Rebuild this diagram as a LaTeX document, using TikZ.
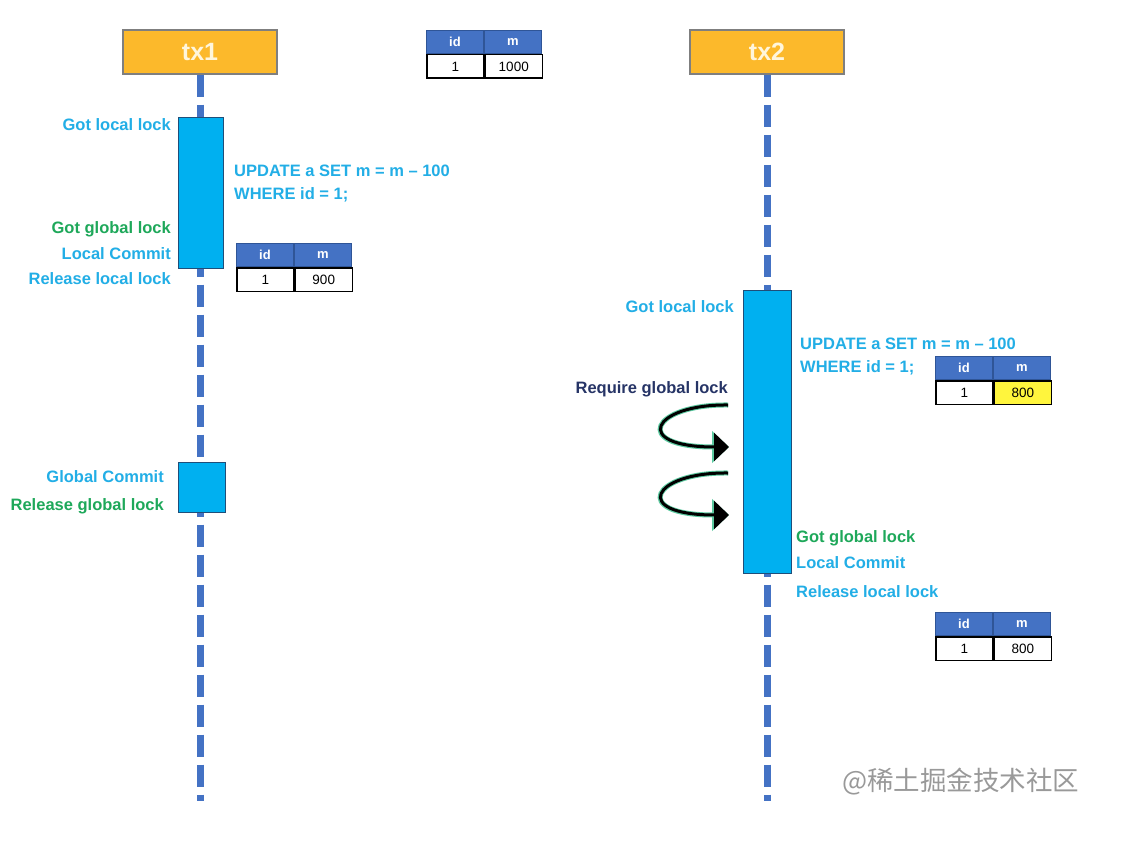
\documentclass[tikz,border=0pt]{standalone}
\usepackage{fontspec}
\setmainfont{Liberation Sans}
\newfontfamily\cjkfont{Noto Sans CJK SC}
\usetikzlibrary{arrows.meta}
\definecolor{txorange}{HTML}{FCB92B}
\definecolor{txborder}{HTML}{7F7F7F}
\definecolor{lifeblue}{HTML}{4472C4}
\definecolor{actcyan}{HTML}{00B0F0}
\definecolor{actborder}{HTML}{1F4E79}
\definecolor{txtcyan}{HTML}{22AEE6}
\definecolor{txtgreen}{HTML}{1EA85A}
\definecolor{txtnavy}{HTML}{263466}
\definecolor{hdrblue}{HTML}{4472C4}
\definecolor{hdrborder}{HTML}{2F5597}
\definecolor{cellyellow}{HTML}{FFF53D}
\definecolor{glowgreen}{HTML}{5CC9A0}
\definecolor{txtcream}{HTML}{FFF6DC}
\newcommand\dbtable[5]{%
  \node[hdrcell] (#1hid) at (#2,#3) {id};
  \node[hdrcell, anchor=north west] (#1hm) at (#1hid.north east) {m};
  \node[rowcell, anchor=north west] (#1vid) at (#1hid.south west) {1};
  \node[rowcell, anchor=north west, fill=#5] (#1vm) at (#1vid.north east) {#4};
}
\begin{document}
\begin{tikzpicture}[x=1pt,y=-1pt,
  txbox/.style={draw=txborder, line width=1.2pt, fill=txorange, text=txtcream,
    minimum width=154pt, minimum height=44pt, inner sep=0pt,
    font=\bfseries\fontsize{25}{25}\selectfont},
  lifeline/.style={lifeblue, line width=7pt, dash pattern=on 22pt off 8pt},
  act/.style={draw=actborder, line width=1pt, fill=actcyan, inner sep=0pt, anchor=north west},
  hdrcell/.style={draw=hdrborder, line width=1pt, fill=hdrblue, text=white, anchor=north west,
    minimum width=57pt, minimum height=23pt, inner sep=0pt,
    font=\bfseries\fontsize{13}{13}\selectfont},
  rowcell/.style={draw=black, line width=1.5pt, fill=white, text=black,
    minimum width=57pt, minimum height=23.5pt, inner sep=0pt,
    font=\fontsize{13.5}{13.5}\selectfont},
  lbl/.style={inner sep=0pt, font=\bfseries\fontsize{16.5}{16.5}\selectfont},
  cyanlbl/.style={lbl, text=txtcyan},
  greenlbl/.style={lbl, text=txtgreen},
  navylbl/.style={lbl, text=txtnavy},
  glow/.style={glowgreen, line width=5pt, -{Triangle[length=17pt,width=31pt]}},
  spin/.style={black, line width=3pt, -{Triangle[length=15pt,width=28pt]}},
]
\useasboundingbox[fill=white] (0,0) rectangle (1123,853);

% headers
\node[txbox] (tx1) at (200,52) {tx1};
\node[txbox] (tx2) at (767,52) {tx2};
\coordinate (tx1end) at (200,801);
\coordinate (tx2end) at (767,801);

% lifelines
\draw[lifeline] (tx1.south) -- (tx1end);
\draw[lifeline] (tx2.south) -- (tx2end);

% activation boxes
\node[act, minimum width=45pt, minimum height=151pt] (a1) at (178,117) {};
\node[act, minimum width=47pt, minimum height=50pt] (a2) at (178,462) {};
\node[act, minimum width=48pt, minimum height=283pt] (a3) at (743,290) {};

% tables
\dbtable{t0}{426}{30}{1000}{white}
\dbtable{t1}{236}{243}{900}{white}
\dbtable{t2}{935}{356}{800}{cellyellow}
\dbtable{t3}{935}{612}{800}{white}

% tx1 labels
\node[cyanlbl, anchor=base east] (l1) at (171,131) {Got local lock};
\node[cyanlbl, anchor=base west] (l2) at (234,177) {UPDATE a SET m = m – 100};
\node[cyanlbl, anchor=base west] (l3) at (234,199) {WHERE id = 1;};
\node[greenlbl, anchor=base east] (l4) at (171,233) {Got global lock};
\node[cyanlbl, anchor=base east] (l5) at (171,259) {Local Commit};
\node[cyanlbl, anchor=base east] (l6) at (171,284) {Release local lock};
\node[cyanlbl, anchor=base east] (l7) at (164,482) {Global Commit};
\node[greenlbl, anchor=base east] (l8) at (164,510) {Release global lock};

% tx2 labels
\node[cyanlbl, anchor=base east] (r1) at (734,312) {Got local lock};
\node[cyanlbl, anchor=base west] (r2) at (800,349) {UPDATE a SET m = m – 100};
\node[cyanlbl, anchor=base west] (r3) at (800,372) {WHERE id = 1;};
\node[navylbl, anchor=base east] (r4) at (728,393) {Require global lock};
\node[greenlbl, anchor=base west] (r5) at (796,542) {Got global lock};
\node[cyanlbl, anchor=base west] (r6) at (796,568) {Local Commit};
\node[cyanlbl, anchor=base west] (r7) at (796,597) {Release local lock};

% spinning arrows
\coordinate (s1a) at (728,405);
\coordinate (s1b) at (729,447);
\coordinate (s2a) at (728,473);
\coordinate (s2b) at (729,515);
\foreach \st in {glow, spin}{
  \draw[\st] (s1a) .. controls (652,404) and (630,447) .. (s1b);
  \draw[\st] (s2a) .. controls (652,472) and (630,515) .. (s2b);
}

% watermark
\node[inner sep=0pt, anchor=west, text=black!40, font=\cjkfont\fontsize{26.5}{26.5}\selectfont] (wm) at (842,782) {@稀土掘金技术社区};
\end{tikzpicture}
\end{document}
